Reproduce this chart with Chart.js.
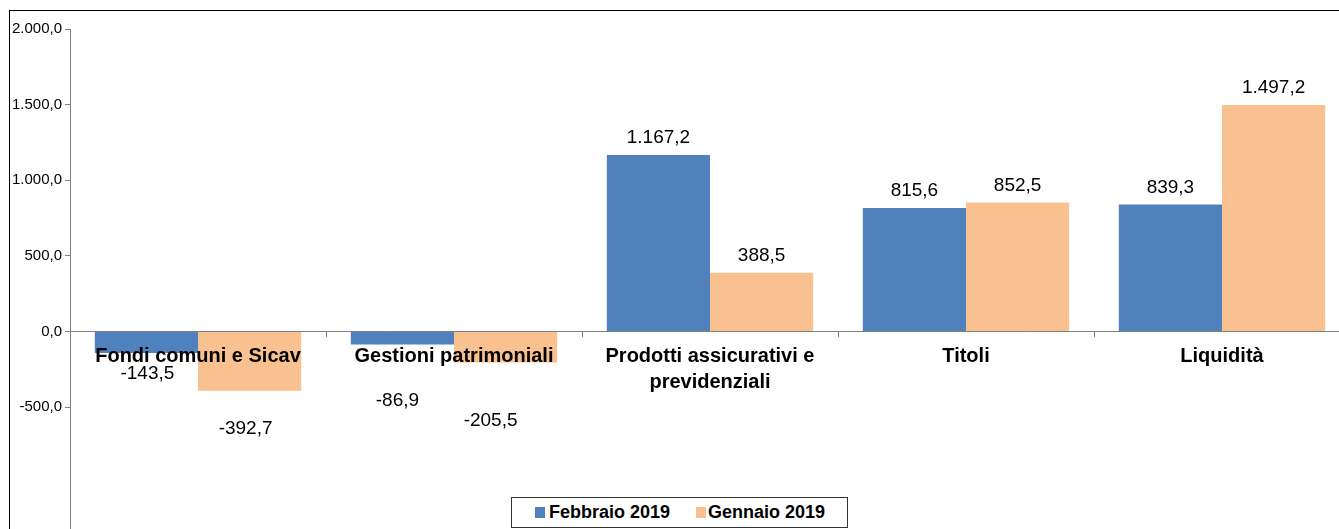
<!DOCTYPE html>
<html>
<head>
<meta charset="utf-8">
<script src="https://cdn.jsdelivr.net/npm/chart.js@4.4.1/dist/chart.umd.min.js"></script>
<style>
  html, body { margin: 0; padding: 0; background: #fff; overflow: hidden; width: 1339px; height: 529px; }
  #frame { position: absolute; left: 9px; top: 10px; width: 1400px; height: 600px; border: 1px solid #000; }
  #c { position: absolute; left: 0; top: 0; }
  #legend { position: absolute; left: 511px; top: 497px; width: 335px; height: 29px; border: 1px solid #333;
            background: #fff; font: bold 18px "Liberation Sans", Arial, sans-serif; color: #000; }
  #legend .sq { position: absolute; top: 9px; width: 10px; height: 11px; }
  #legend .tx { position: absolute; top: 0; line-height: 29px; white-space: nowrap; }
</style>
</head>
<body>
<div id="frame"></div>
<canvas id="c" width="1360" height="540"></canvas>
<div id="legend">
  <span class="sq" style="left:23px;background:#4F81BD"></span><span class="tx" style="left:37px">Febbraio 2019</span>
  <span class="sq" style="left:184px;background:#F9C090"></span><span class="tx" style="left:196px">Gennaio 2019</span>
</div>
<script>
// dati
var categories = ['Fondi comuni e Sicav', 'Gestioni patrimoniali', ['Prodotti assicurativi e', 'previdenziali'], 'Titoli', 'Liquidità'];
var febbraio2019 = [-143.5, -86.9, 1167.2, 815.6, 839.3];
var gennaio2019 = [-392.7, -205.5, 388.5, 852.5, 1497.2];
var yTicks = [-500, 0, 500, 1000, 1500, 2000];

// spostamenti manuali delle etichette negative (come nel grafico excel)
var labelShift = [
  [[1, 21], [-5, 56], [0, 0], [0, 0], [0, 0]],
  [[-4, 38], [-15, 58], [0, 0], [0, 0], [0, 0]]
];

function itNum(v) {
  var s = Math.abs(v).toFixed(1).split('.');
  var intp = s[0].replace(/\B(?=(\d{3})+(?!\d))/g, '.');
  return (v < 0 ? '-' : '') + intp + ',' + s[1];
}

var valueLabels = {
  id: 'valueLabels',
  afterDatasetsDraw: function(chart) {
    var ctx = chart.ctx;
    ctx.save();
    ctx.font = '19px "Liberation Sans", Arial, sans-serif';
    ctx.fillStyle = '#000';
    ctx.textAlign = 'center';
    ctx.textBaseline = 'middle';
    chart.data.datasets.forEach(function(ds, i) {
      var meta = chart.getDatasetMeta(i);
      meta.data.forEach(function(bar, j) {
        var v = ds.data[j];
        var sh = labelShift[i][j];
        var y = v >= 0 ? bar.y - 17 : bar.y + sh[1];
        ctx.fillText(itNum(v), bar.x + sh[0], y);
      });
    });
    ctx.restore();
  }
};

var ctx = document.getElementById('c');
new Chart(ctx, {
  type: 'bar',
  data: {
    labels: categories,
    datasets: [
      { label: 'Febbraio 2019', data: febbraio2019, backgroundColor: '#4F81BD', borderWidth: 0,
        categoryPercentage: 0.806, barPercentage: 1.0 },
      { label: 'Gennaio 2019', data: gennaio2019, backgroundColor: '#F9C090', borderWidth: 0,
        categoryPercentage: 0.806, barPercentage: 1.0 }
    ]
  },
  options: {
    responsive: false,
    animation: false,
    devicePixelRatio: 1,
    layout: { padding: { top: 29, right: 10, bottom: 0, left: 0 } },
    plugins: {
      legend: { display: false },
      tooltip: { enabled: false }
    },
    scales: {
      x: {
        position: { y: 0 },
        offset: true,
        grid: { drawOnChartArea: false, drawTicks: true, tickLength: 5, color: '#808080', offset: true, z: 1 },
        border: { display: true, color: '#808080', width: 1, z: 1 },
        ticks: {
          z: 1,
          color: '#000', padding: 7, maxRotation: 0, autoSkip: false,
          font: { family: '"Liberation Sans", Arial, sans-serif', size: 20, weight: 'bold', lineHeight: 1.3 }
        }
      },
      y: {
        min: -1300,
        max: 2000,
        afterBuildTicks: function(axis) {
          axis.ticks = yTicks.map(function(v) { return { value: v }; });
        },
        afterFit: function(scale) { scale.width = 70; },
        grid: { drawOnChartArea: false, drawTicks: true, tickLength: 5, color: '#808080' },
        border: { display: true, color: '#808080', width: 1 },
        ticks: {
          color: '#000', padding: 3,
          font: { family: '"Liberation Sans", Arial, sans-serif', size: 15 },
          callback: function(v) { return itNum(v); }
        }
      }
    }
  },
  plugins: [valueLabels]
});
</script>
</body>
</html>
